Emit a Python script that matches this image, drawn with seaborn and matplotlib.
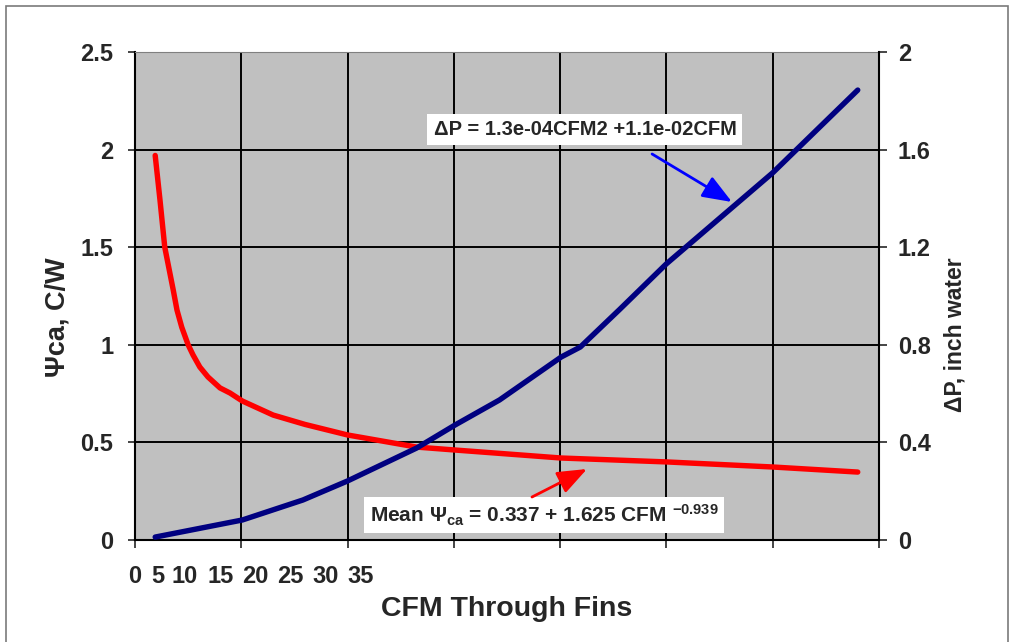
import numpy as np
import pandas as pd
import seaborn as sns
import matplotlib.pyplot as plt
from matplotlib.patches import Rectangle

# Mean thermal resistance (red, left axis)
psi_x = [0.19, 0.235, 0.28, 0.36, 0.395, 0.44, 0.50, 0.546, 0.61, 0.687, 0.80, 0.894, 1.01, 1.30, 1.60,
         2.00, 2.65, 3.01, 4.01, 5.00, 6.00, 6.80]
psi_ca = [1.97, 1.742, 1.50, 1.28, 1.178, 1.09, 1.00, 0.948, 0.886, 0.835, 0.779, 0.753, 0.712, 0.640, 0.592,
          0.538, 0.476, 0.461, 0.420, 0.400, 0.374, 0.348]

# pressure drop (blue, right axis)
dp_x = [0.19, 1.01, 1.58, 2.00, 2.65, 3.01, 3.43, 4.01, 4.19, 4.56, 5.00, 6.00, 6.80]
dp = [0.012, 0.082, 0.164, 0.242, 0.377, 0.471, 0.574, 0.750, 0.791, 0.945, 1.132, 1.505, 1.844]

# the x tick labels sit crammed at the left, as in the original
x_labels = ["0", "5", "10", "15", "20", "25", "30", "35"]
x_label_pos = [0.0, 0.21, 0.47, 0.81, 1.13, 1.46, 1.79, 2.12]
left_ticks = [0, 0.5, 1, 1.5, 2, 2.5]
left_labels = ["0", "0.5", "1", "1.5", "2", "2.5"]
right_ticks = [0, 0.4, 0.8, 1.2, 1.6, 2]
right_labels = ["0", "0.4", "0.8", "1.2", "1.6", "2"]

sns.set_style("white")
plt.rcParams['font.family'] = ['Liberation Sans', 'DejaVu Sans']
plt.rcParams['font.weight'] = 'bold'
plt.rcParams['mathtext.fontset'] = 'custom'
plt.rcParams['mathtext.rm'] = 'Liberation Sans:bold'
plt.rcParams['mathtext.it'] = 'Liberation Sans:bold'
plt.rcParams['mathtext.bf'] = 'Liberation Sans:bold'

W, H = 1012, 642
fig = plt.figure(figsize=(W / 100, H / 100), dpi=100)
fig.patches.append(Rectangle((6 / W, -0.02), 1002 / W, 1.02 - 6 / H, transform=fig.transFigure,
                             fill=False, ec='#7a7a7a', lw=1.2))

ax = fig.add_axes([135 / W, 1 - 540 / H, 744 / W, 488 / H])
ax.set_facecolor('#c0c0c0')
sns.lineplot(x=psi_x, y=psi_ca, ax=ax, color='#ff0000', lw=3.9, solid_joinstyle='round', solid_capstyle='round')
ax2 = ax.twinx()
sns.lineplot(x=dp_x, y=dp, ax=ax2, color='#000080', lw=3.9, solid_joinstyle='round', solid_capstyle='round')

ax.set_xlim(0, 7)
ax.set_ylim(0, 2.5)
ax2.set_ylim(0, 2)
ax.xaxis.remove_overlapping_locs = False
ax.set_xticks(range(8))
ax.set_xticklabels([])
ax.set_xticks(x_label_pos, labels=x_labels, minor=True)
ax.set_yticks(left_ticks, labels=left_labels)
ax2.set_yticks(right_ticks, labels=right_labels)
ax.grid(True, which='major', color='black', lw=1.4)
ax.set_axisbelow(True)

for s in ['left', 'bottom']:
    ax.spines[s].set_color('black')
    ax.spines[s].set_linewidth(1.5)
ax.spines['top'].set_color('#808080')
ax.spines['right'].set_visible(False)
for s in ['left', 'bottom', 'top']:
    ax2.spines[s].set_visible(False)
ax2.spines['right'].set_color('black')
ax2.spines['right'].set_linewidth(1.5)

ax.tick_params(axis='y', direction='out', length=5, width=1.2, pad=10.5, labelsize=17, left=True)
ax.tick_params(axis='x', which='major', direction='out', length=5.5, width=1.2, bottom=True)
ax.tick_params(axis='x', which='minor', length=0, pad=18, labelsize=17)
ax2.tick_params(axis='y', direction='out', length=5.5, width=1.2, pad=8, labelsize=17, right=True)

fig.text(507 / W, 1 - 609 / H, 'CFM Through Fins', ha='center', va='center', fontsize=20.5)
fig.text(58 / W, 1 - 317 / H, 'Ψca, C/W', ha='center', va='center', rotation=90, fontsize=19.5)
fig.text(955 / W, 1 - 335 / H, 'ΔP, inch water', ha='center', va='center', rotation=90, fontsize=16.5)

ax2.text(0.6048, 0.842, 'ΔP = 1.3e-04CFM2 +1.1e-02CFM', transform=ax2.transAxes,
         ha='center', va='center', fontsize=14.5,
         bbox=dict(boxstyle='square,pad=0.3', fc='white', ec='none'))
ax2.text(0.5497, 0.0512, r'Mean $\Psi_{\rm ca}$ = 0.337 + 1.625 CFM $^{-0.939}$', transform=ax2.transAxes,
         ha='center', va='center', fontsize=15,
         bbox=dict(boxstyle='square,pad=0.25', fc='white', ec='none'))

arrow = dict(arrowstyle='-|>,head_length=0.9,head_width=0.35', lw=2, mutation_scale=20,
             shrinkA=0, shrinkB=0)
ax2.annotate('', xy=(0.8024, 0.6926), xytext=(0.695, 0.791), xycoords='axes fraction',
             arrowprops=dict(arrow, color='#0000ff'))
ax2.annotate('', xy=(0.6075, 0.1455), xytext=(0.5336, 0.0881), xycoords='axes fraction',
             arrowprops=dict(arrow, color='#ff0000'))

fig.savefig('out.png', dpi=100)
